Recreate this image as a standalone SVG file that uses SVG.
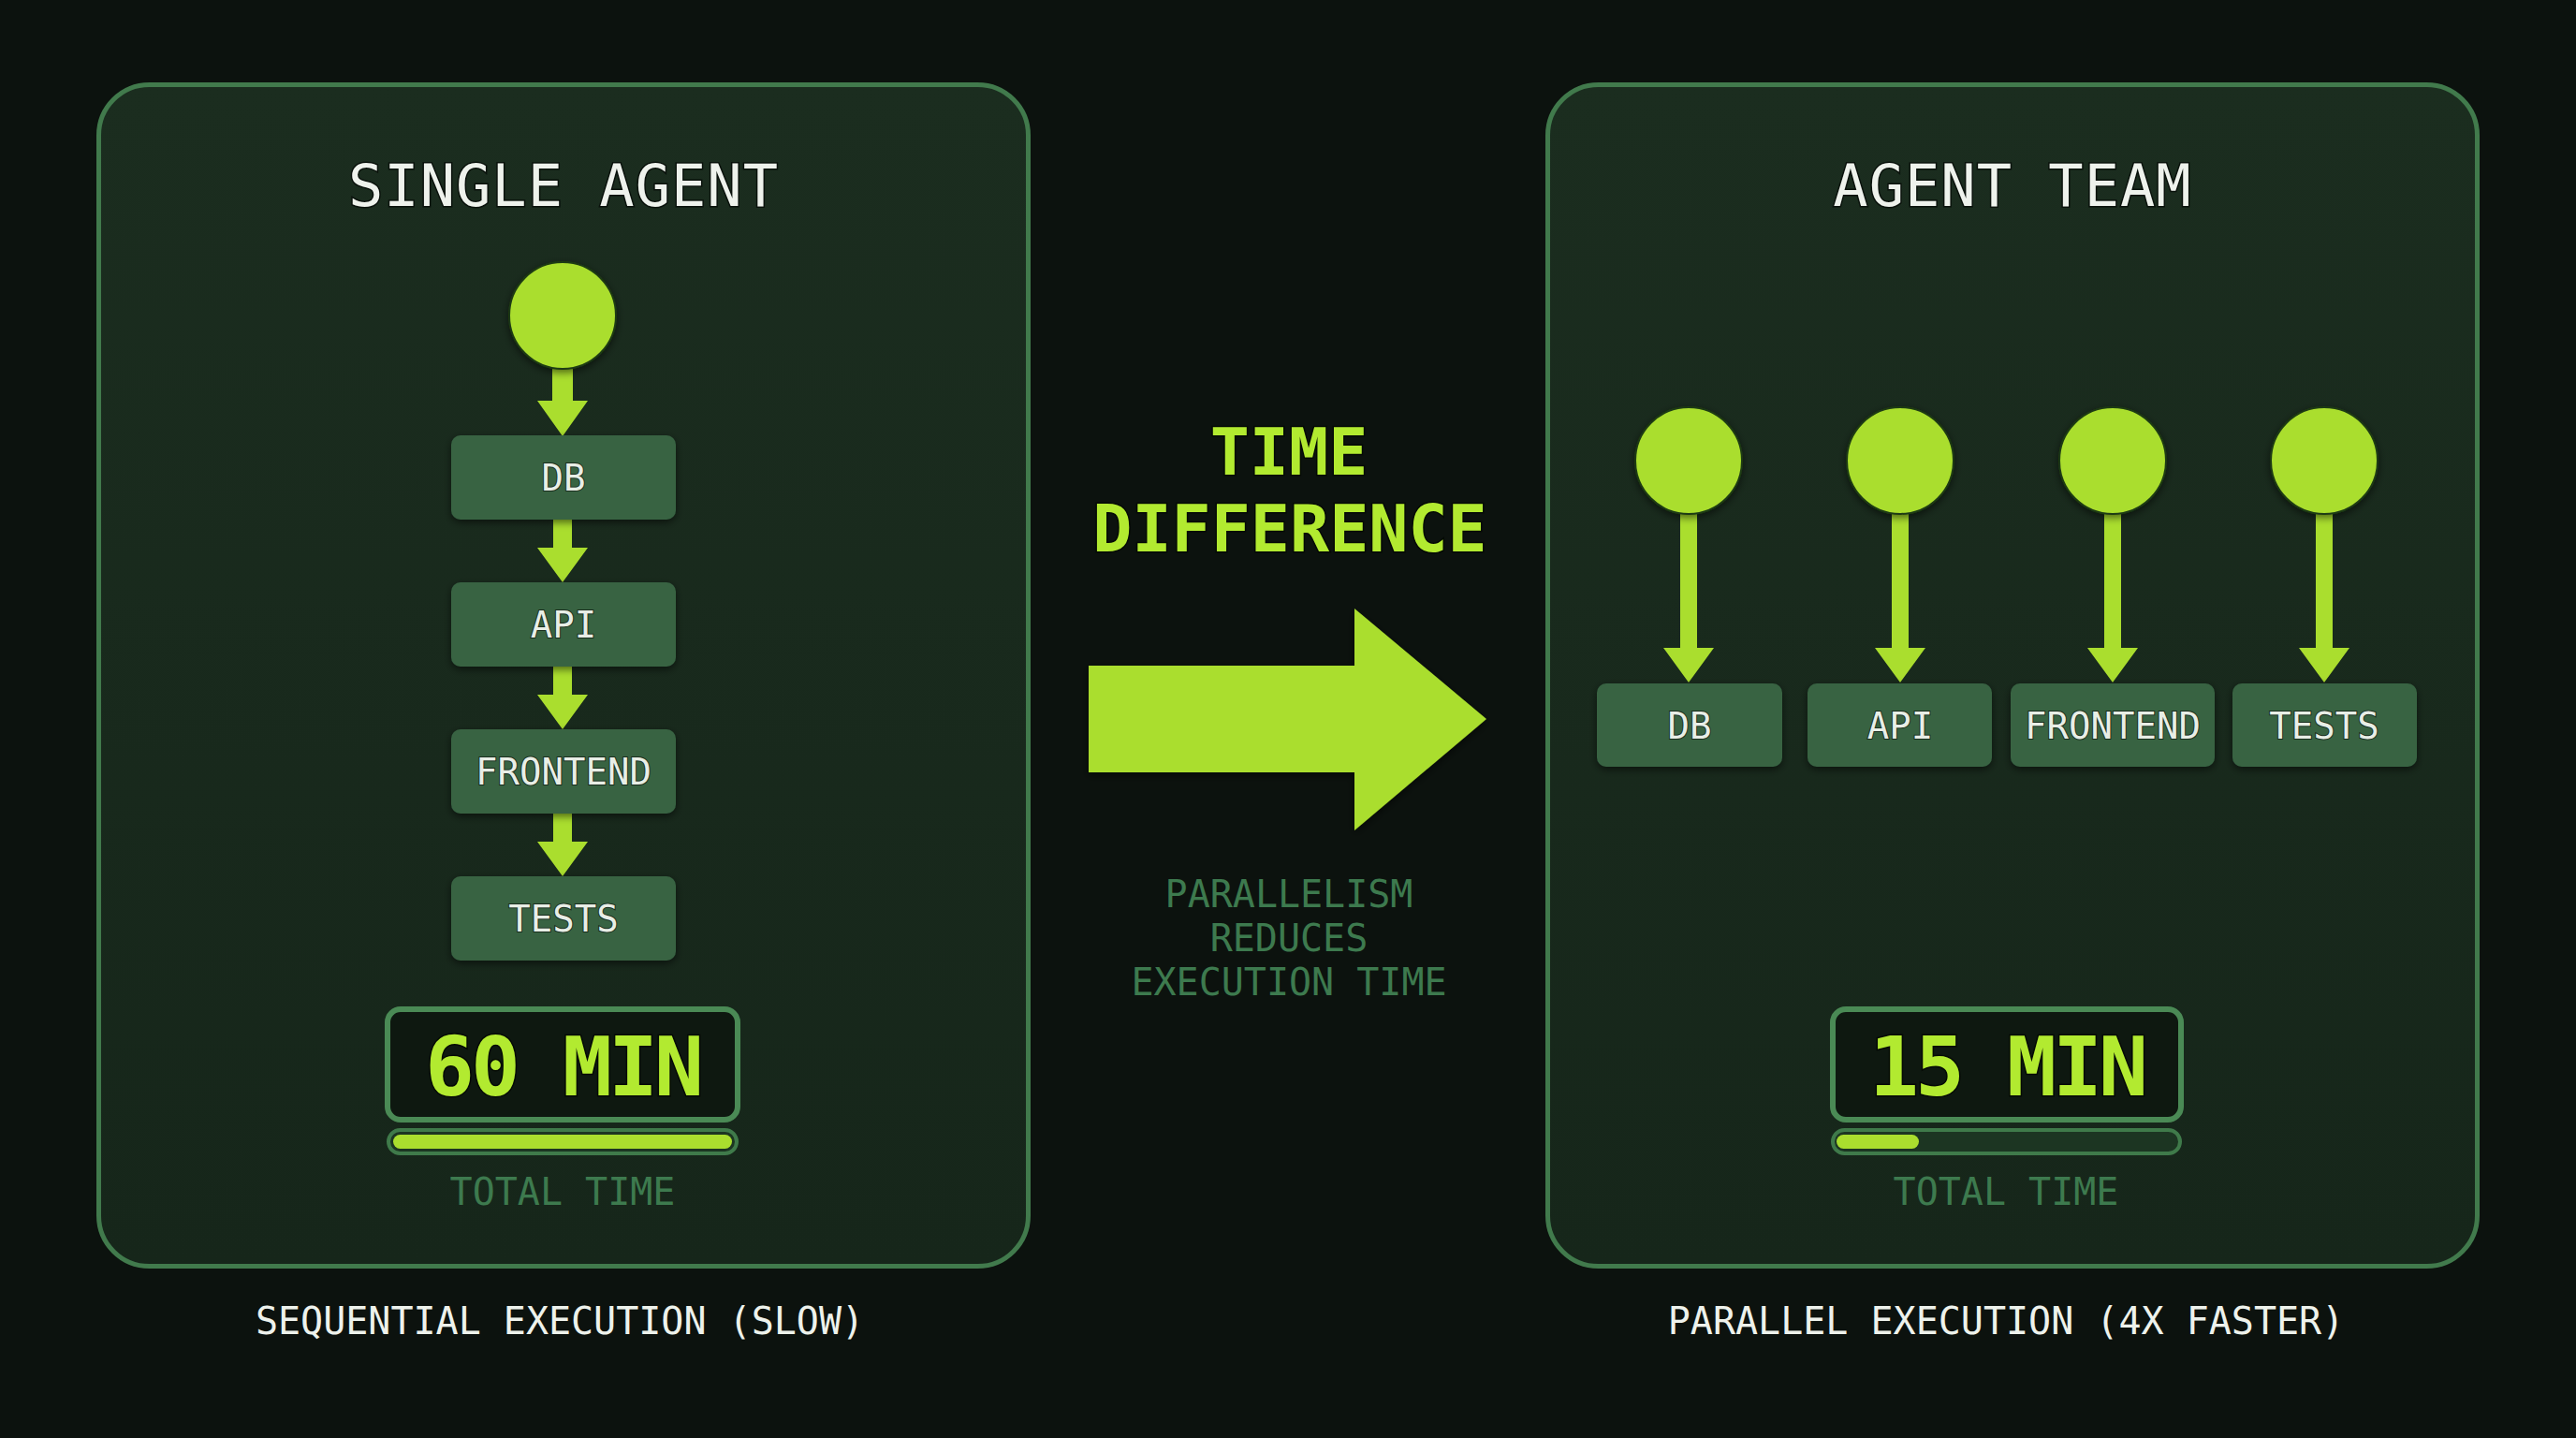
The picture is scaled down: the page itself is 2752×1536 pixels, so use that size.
<svg xmlns="http://www.w3.org/2000/svg" width="2752" height="1536" viewBox="0 0 2752 1536">
  <defs>
    <linearGradient id="panelGrad" x1="0" y1="0" x2="0" y2="1">
      <stop offset="0" stop-color="#1b2d1f"/>
      <stop offset="1" stop-color="#16261a"/>
    </linearGradient>
    <filter id="shadow" x="-20%" y="-20%" width="140%" height="140%">
      <feDropShadow dx="0" dy="3" stdDeviation="4" flood-color="#000" flood-opacity="0.55"/>
    </filter>
    <style>
      .panel { fill: url(#panelGrad); stroke: #417a4c; stroke-width: 5; }
      .title { font-family: "DejaVu Sans Mono", "Liberation Mono", monospace; font-size: 62px; fill: #eef2ec; text-anchor: middle; letter-spacing: 1px; paint-order: stroke; stroke: #0a120c; stroke-width: 3px; }
      .task { fill: #386343; filter: url(#shadow); }
      .task-label { font-family: "DejaVu Sans Mono", "Liberation Mono", monospace; font-size: 39px; fill: #e8eee6; text-anchor: middle; paint-order: stroke; stroke: #1a2e1e; stroke-width: 2px; }
      .agent { fill: #aade2e; stroke: #1f3a12; stroke-width: 2; filter: url(#shadow); }
      .lime { fill: #aade2e; }
      .timebox { fill: #0e1810; stroke: #4a8a55; stroke-width: 6; }
      .time { font-family: "DejaVu Sans Mono", "Liberation Mono", monospace; font-size: 88px; font-weight: bold; fill: #b2ea30; text-anchor: middle; letter-spacing: -4px; paint-order: stroke; stroke: #050a05; stroke-width: 3px; }
      .bar { fill: #1c3522; stroke: #3f7a4a; stroke-width: 4; }
      .muted { font-family: "DejaVu Sans Mono", "Liberation Mono", monospace; font-size: 40px; fill: #3d7a4e; text-anchor: middle; }
      .caption { font-family: "DejaVu Sans Mono", "Liberation Mono", monospace; font-size: 40px; fill: #eef2ec; text-anchor: middle; }
      .headline { font-family: "DejaVu Sans Mono", "Liberation Mono", monospace; font-size: 70px; font-weight: bold; fill: #b2ea30; text-anchor: middle; paint-order: stroke; stroke: #050a05; stroke-width: 3px; }
    </style>
  </defs>

  <rect x="0" y="0" width="2752" height="1536" fill="#0c120e"/>

  <!-- Left panel -->
  <g id="panel-single">
    <rect class="panel" x="105.5" y="90.5" width="993" height="1262" rx="54"/>
    <text class="title" x="602" y="220">SINGLE AGENT</text>
  </g>

  <!-- Right panel -->
  <g id="panel-team">
    <rect class="panel" x="1653.5" y="90.5" width="993" height="1262" rx="54"/>
    <text class="title" x="2150" y="220">AGENT TEAM</text>
  </g>

  <!-- Connectors -->
  <g id="connectors" class="lime">
    <!-- sequential -->
    <path d="M590,392 H612 V428 H628 L601,466 L574,428 H590 Z"/>
    <path d="M591,555 H611 V585 H628 L601,622 L574,585 H591 Z"/>
    <path d="M591,712 H611 V742 H628 L601,779 L574,742 H591 Z"/>
    <path d="M591,869 H611 V899 H628 L601,936 L574,899 H591 Z"/>
    <!-- parallel -->
    <path d="M1795,545 H1813 V692 H1831 L1804,729 L1777,692 H1795 Z"/>
    <path d="M2021,545 H2039 V692 H2057 L2030,729 L2003,692 H2021 Z"/>
    <path d="M2248,545 H2266 V692 H2284 L2257,729 L2230,692 H2248 Z"/>
    <path d="M2474,545 H2492 V692 H2510 L2483,729 L2456,692 H2474 Z"/>
  </g>

  <!-- Sequential nodes -->
  <g id="single-agent">
    <circle class="agent" cx="601" cy="337" r="57"/>
  </g>
  <g id="seq-db">
    <rect class="task" x="482" y="465" width="240" height="90" rx="10"/>
    <text class="task-label" x="602" y="524">DB</text>
  </g>
  <g id="seq-api">
    <rect class="task" x="482" y="622" width="240" height="90" rx="10"/>
    <text class="task-label" x="602" y="681">API</text>
  </g>
  <g id="seq-frontend">
    <rect class="task" x="482" y="779" width="240" height="90" rx="10"/>
    <text class="task-label" x="602" y="838">FRONTEND</text>
  </g>
  <g id="seq-tests">
    <rect class="task" x="482" y="936" width="240" height="90" rx="10"/>
    <text class="task-label" x="602" y="995">TESTS</text>
  </g>

  <g id="seq-time">
    <rect class="timebox" x="414" y="1078" width="374" height="118" rx="14"/>
    <text class="time" x="601" y="1170">60 MIN</text>
    <rect class="bar" x="415" y="1207" width="372" height="25" rx="12.5"/>
    <rect class="lime" x="420" y="1212" width="362" height="15" rx="7.5"/>
    <text class="muted" x="601" y="1287">TOTAL TIME</text>
  </g>

  <text class="caption" x="598" y="1425">SEQUENTIAL EXECUTION (SLOW)</text>

  <!-- Center -->
  <g id="time-difference">
    <text class="headline" x="1377" y="507">TIME</text>
    <text class="headline" x="1378" y="589">DIFFERENCE</text>
    <path class="lime" d="M1163,711 H1447 V650 L1588,768 L1447,887 V825 H1163 Z" filter="url(#shadow)"/>
    <text class="muted" x="1377" y="969">PARALLELISM</text>
    <text class="muted" x="1377" y="1016">REDUCES</text>
    <text class="muted" x="1377" y="1063">EXECUTION TIME</text>
  </g>

  <!-- Parallel nodes -->
  <g id="team-agent-1"><circle class="agent" cx="1804" cy="492" r="57"/></g>
  <g id="team-agent-2"><circle class="agent" cx="2030" cy="492" r="57"/></g>
  <g id="team-agent-3"><circle class="agent" cx="2257" cy="492" r="57"/></g>
  <g id="team-agent-4"><circle class="agent" cx="2483" cy="492" r="57"/></g>

  <g id="par-db">
    <rect class="task" x="1706" y="730" width="198" height="89" rx="10"/>
    <text class="task-label" x="1805" y="789">DB</text>
  </g>
  <g id="par-api">
    <rect class="task" x="1931" y="730" width="197" height="89" rx="10"/>
    <text class="task-label" x="2030" y="789">API</text>
  </g>
  <g id="par-frontend">
    <rect class="task" x="2148" y="730" width="218" height="89" rx="10"/>
    <text class="task-label" x="2257" y="789">FRONTEND</text>
  </g>
  <g id="par-tests">
    <rect class="task" x="2385" y="730" width="197" height="89" rx="10"/>
    <text class="task-label" x="2483" y="789">TESTS</text>
  </g>

  <g id="par-time">
    <rect class="timebox" x="1958" y="1078" width="372" height="118" rx="14"/>
    <text class="time" x="2144" y="1170">15 MIN</text>
    <rect class="bar" x="1958" y="1207" width="371" height="25" rx="12.5"/>
    <rect class="lime" x="1962" y="1212" width="88" height="15" rx="7.5"/>
    <text class="muted" x="2143" y="1287">TOTAL TIME</text>
  </g>

  <text class="caption" x="2143" y="1425">PARALLEL EXECUTION (4X FASTER)</text>
</svg>
